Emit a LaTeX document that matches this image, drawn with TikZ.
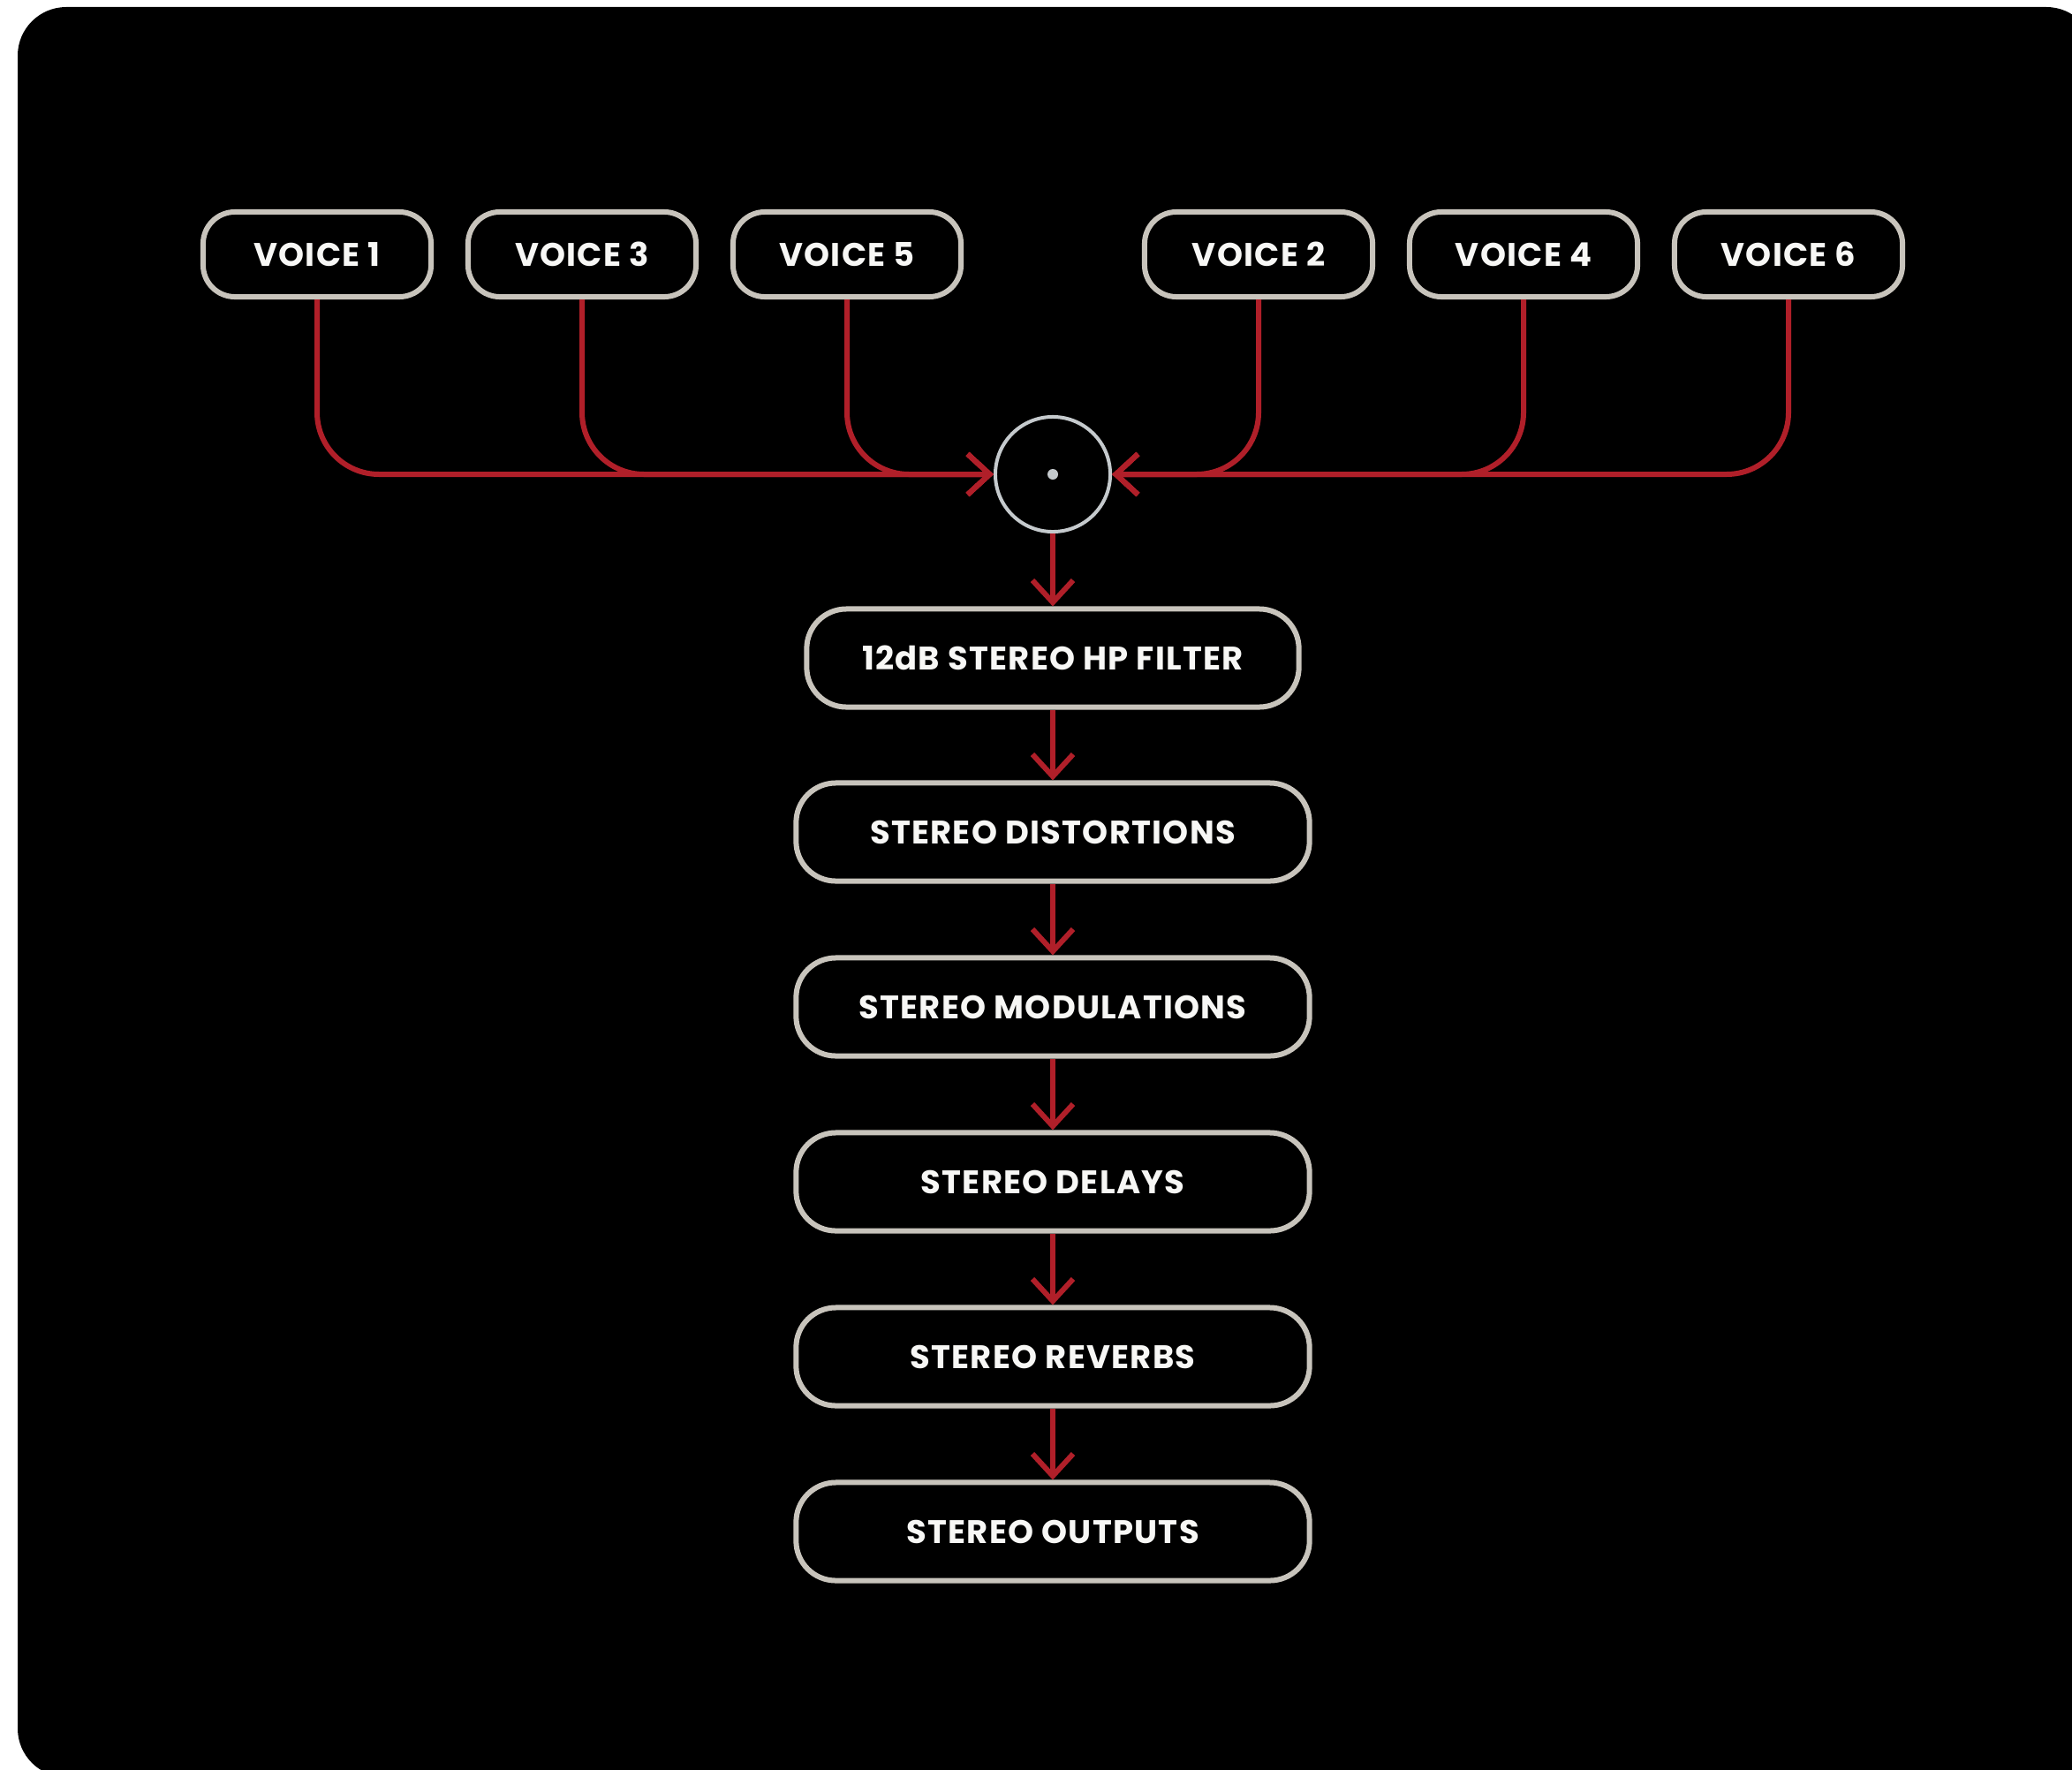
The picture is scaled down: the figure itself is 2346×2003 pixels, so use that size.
\documentclass[tikz,border=0pt]{standalone}
\usepackage{fontspec}
\setmainfont{Poppins}[LetterSpace=3.5]
\usetikzlibrary{arrows.meta}

\definecolor{wirered}{HTML}{B01F29}
\definecolor{framegray}{HTML}{C8C4BC}
\definecolor{hubgray}{HTML}{C5CACD}
\definecolor{labelwhite}{HTML}{F7F7F5}

\begin{document}
\begin{tikzpicture}[x=0.01cm,y=-0.01cm]
		\tikzset{voice/.style = {draw=framegray, line width=0.06cm, rounded corners=0.36cm,
				minimum width=2.58cm, minimum height=0.96cm, inner sep=0pt,
				text=labelwhite, font=\bfseries\fontsize{10.5}{12}\selectfont}}
		\tikzset{stage/.style = {voice, rounded corners=0.45cm,
				minimum width=5.81cm, minimum height=1.11cm}}
		\tikzset{hub/.style = {circle, draw=hubgray, line width=0.04cm,
				minimum size=1.30cm, inner sep=0pt}}
		\tikzset{wire/.style = {draw=wirered, line width=0.06cm,
				-{Straight Barb[length=0.25cm,width=0.46cm]}}}
		\tikzset{bus/.style = {wire, rounded corners=0.7cm}}
		
		% page and dark panel
		\useasboundingbox (0,0) rectangle (2346,2003);
		\fill[white] (0,0) rectangle (2346,2003);
		\fill[black, rounded corners=0.55cm] (20,8) rectangle (2372,2012);
		
		\node[voice]  (v1) at ( 359, 288) {VOICE 1};
		\node[voice]  (v3) at ( 659, 288) {VOICE 3};
		\node[voice]  (v5) at ( 959, 288) {VOICE 5};
		\node[voice]  (v2) at (1425, 288) {VOICE 2};
		\node[voice]  (v4) at (1725, 288) {VOICE 4};
		\node[voice]  (v6) at (2025, 288) {VOICE 6};
		
		\node[hub]    (hub) at (1192, 537) {};
		\fill[hubgray] (hub.center) circle (0.06cm);
		
		\node[stage, minimum width=5.57cm] (hp) at (1192, 745) {12dB STEREO HP FILTER};
		\node[stage]  (dist) at (1192, 942) {STEREO DISTORTIONS};
		\node[stage]  (mod)  at (1192,1140) {STEREO MODULATIONS};
		\node[stage]  (dly)  at (1192,1338) {STEREO DELAYS};
		\node[stage]  (rev)  at (1192,1536) {STEREO REVERBS};
		\node[stage]  (out)  at (1192,1734) {STEREO OUTPUTS};
		
		\draw[bus] (v1) |- (hub);
		\draw[bus] (v3) |- (hub);
		\draw[bus] (v5) |- (hub);
		\draw[bus] (v2) |- (hub);
		\draw[bus] (v4) |- (hub);
		\draw[bus] (v6) |- (hub);
		
		\draw[wire] (hub)  to (hp);
		\draw[wire] (hp)   to (dist);
		\draw[wire] (dist) to (mod);
		\draw[wire] (mod)  to (dly);
		\draw[wire] (dly)  to (rev);
		\draw[wire] (rev)  to (out);
\end{tikzpicture}
\end{document}
